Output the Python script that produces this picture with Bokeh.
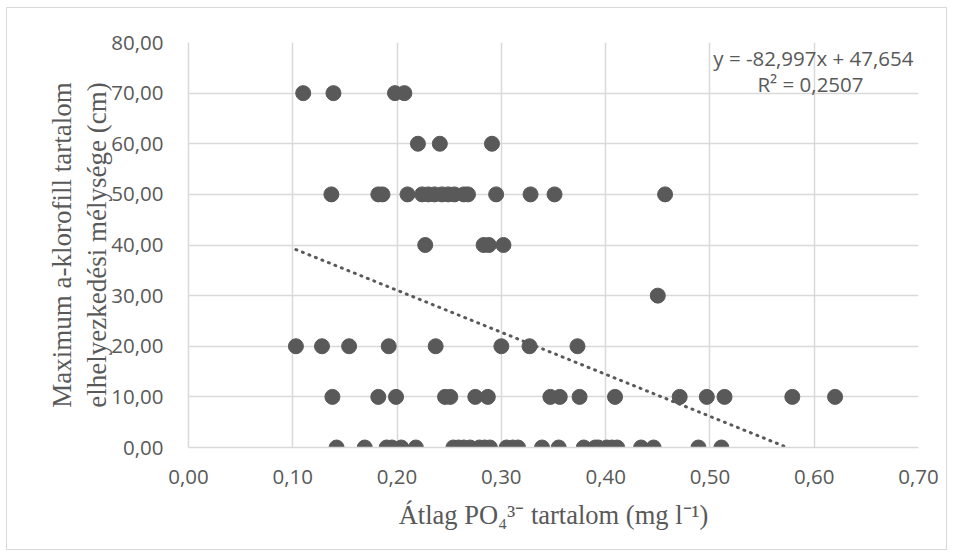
from bokeh.plotting import figure
from bokeh.models import Label, Range1d, FixedTicker, CustomJSTickFormatter, LinearAxis
from bokeh.embed import file_html
from bokeh.resources import INLINE

# ---- data ----
x70 = [0.110, 0.139, 0.198, 0.207]
x60 = [0.220, 0.241, 0.291]
x50 = [0.137, 0.182, 0.186, 0.210, 0.224, 0.230, 0.236, 0.243, 0.249, 0.255,
       0.264, 0.268, 0.295, 0.328, 0.351, 0.457]
x40 = [0.227, 0.283, 0.288, 0.302]
x30 = [0.450]
x20 = [0.103, 0.128, 0.154, 0.192, 0.237, 0.300, 0.327, 0.373]
x10 = [0.138, 0.182, 0.199, 0.246, 0.251, 0.275, 0.287, 0.347, 0.356, 0.375,
       0.409, 0.471, 0.497, 0.514, 0.579, 0.620]
x0 = [0.142, 0.169, 0.190, 0.195, 0.204, 0.218, 0.254, 0.259, 0.264, 0.270,
      0.279, 0.284, 0.289, 0.305, 0.311, 0.316, 0.339, 0.355, 0.379, 0.390,
      0.393, 0.401, 0.406, 0.411, 0.434, 0.446, 0.489, 0.511]
levels = [70, 60, 50, 40, 30, 20, 10, 0]
groups = [x70, x60, x50, x40, x30, x20, x10, x0]

slope = -82.997
intercept = 47.654
r2 = 0.2507

x_ticks = [0.0, 0.1, 0.2, 0.3, 0.4, 0.5, 0.6, 0.7]
y_ticks = [0, 10, 20, 30, 40, 50, 60, 70, 80]

x_title = "Átlag PO₄³⁻ tartalom (mg l⁻¹)"
y_title_1 = "Maximum a-klorofill tartalom"
y_title_2 = "elhelyezkedési mélysége (cm)"

xs, ys = [], []
for lv, g in zip(levels, groups):
    xs += g
    ys += [lv] * len(g)

GREY = "#595959"
GRID = "#d9d9d9"

p = figure(width=939, height=541, output_backend="svg", toolbar_location=None,
           x_range=Range1d(0, 0.7), y_range=Range1d(0, 80),
           min_border_left=181, min_border_right=28, min_border_top=34,
           min_border_bottom=102)
p.margin = (8, 0, 0, 7)
p.styles = {"outline": "1px solid #d9d9d9"}
p.outline_line_color = None
p.border_fill_color = "white"
p.background_fill_color = "white"

for ax, ticks in ((p.xaxis, x_ticks), (p.yaxis, y_ticks)):
    ax.ticker = FixedTicker(ticks=ticks)
    ax.formatter = CustomJSTickFormatter(code="return tick.toFixed(2).replace('.', ',');")
    ax.major_tick_line_color = None
    ax.minor_tick_line_color = None
    ax.major_label_text_font = "Open Sans"
    ax.major_label_text_font_size = "20.5px"
    ax.major_label_text_color = GREY
    ax.axis_line_color = GRID
    ax.axis_line_width = 1.5
    ax.axis_label_text_font = "Liberation Serif"
    ax.axis_label_text_font_style = "normal"
    ax.axis_label_text_color = GREY

p.xaxis.major_label_standoff = 16
p.yaxis.major_label_standoff = 19

p.xaxis.axis_label = x_title
p.xaxis.axis_label_text_font_size = "26.5px"
p.xaxis.axis_label_standoff = 13

p.yaxis.axis_label = y_title_2
p.yaxis.axis_label_text_font_size = "27px"
p.yaxis.axis_label_standoff = -4

# outer (second) left axis carries only the first title line
ax2 = LinearAxis(ticker=FixedTicker(ticks=[]), axis_label=y_title_1,
                 axis_line_color=None, major_tick_line_color=None,
                 minor_tick_line_color=None, major_label_text_font_size="0px",
                 axis_label_text_font="Liberation Serif", axis_label_text_font_size="27px",
                 axis_label_text_font_style="normal", axis_label_text_color=GREY,
                 axis_label_standoff=3)
p.add_layout(ax2, "left")

p.xgrid.ticker = FixedTicker(ticks=x_ticks)
p.ygrid.ticker = FixedTicker(ticks=y_ticks)
p.xgrid.grid_line_color = GRID
p.ygrid.grid_line_color = GRID
p.xgrid.grid_line_width = 1.5
p.ygrid.grid_line_width = 1.5

# trendline across data range (clipped by the frame at y=0)
tx = [min(xs), max(xs)]
ty = [slope * v + intercept for v in tx]
p.line(tx, ty, line_color=GREY, line_width=3, line_dash="1 6", line_cap="round")

p.scatter(xs, ys, size=15, fill_color=GREY, line_color=GREY)

def fmt(v, d):
    return f"{v:.{d}f}".replace(".", ",")

# screen units are relative to the plot frame
eq = f"y = {fmt(slope, 3)}x + {fmt(intercept, 3)}"
p.add_layout(Label(x=725, y=390, x_units="screen", y_units="screen", text=eq,
                   text_align="right", text_baseline="middle",
                   text_font="Open Sans", text_font_size="20.5px", text_color=GREY))
p.add_layout(Label(x=622, y=364, x_units="screen", y_units="screen",
                   text=f"R² = {fmt(r2, 4)}",
                   text_align="center", text_baseline="middle",
                   text_font="Open Sans", text_font_size="20.5px", text_color=GREY))

open("out.html", "w").write(file_html(p, INLINE))
